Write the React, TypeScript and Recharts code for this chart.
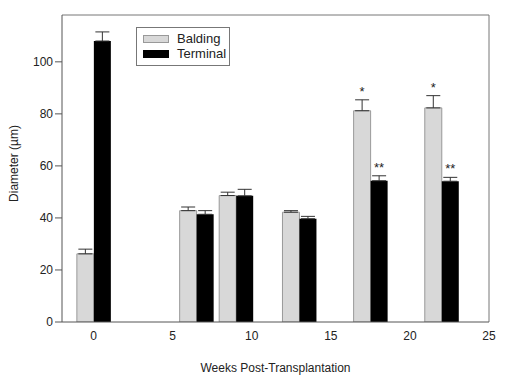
import React from 'react';
import { ComposedChart, Bar, XAxis, YAxis, ErrorBar, LabelList, ReferenceLine } from 'recharts';

const weeks = [0, 6.5, 9, 13, 17.5, 22];
const balding = [26.2, 42.8, 48.6, 42.2, 81.2, 82.3];
const baldingErr = [1.8, 1.4, 1.3, 0.6, 4.2, 4.7];
const terminal = [108, 41.4, 48.5, 39.7, 54.3, 54.1];
const terminalErr = [3.5, 1.4, 2.5, 0.9, 1.9, 1.5];
const baldingSig = ['', '', '', '', '*', '*'];
const terminalSig = ['', '', '', '', '**', '**'];
const seriesNames = ['Balding', 'Terminal'];
const xTicks = [0, 5, 10, 15, 20, 25];
const yTicks = [0, 20, 40, 60, 80, 100];

const data = weeks.map((w, i) => ({
  week: w,
  balding: balding[i],
  baldingErr: [0, baldingErr[i]],
  baldingSig: baldingSig[i],
  terminal: terminal[i],
  terminalErr: [0, terminalErr[i]],
  terminalSig: terminalSig[i],
}));

const FONT = 'Liberation Sans, Arial, sans-serif';

const makeSig = (errs: number[], vals: number[]) => (props: any) => {
  const { x, y, width, height, value, index } = props;
  if (!value) return null;
  const pxPerUnit = height / vals[index];
  const errTop = y - errs[index] * pxPerUnit;
  return (
    <text x={x + width / 2} y={errTop - 4} textAnchor="middle" fontSize={13} fontFamily={FONT} fill="#222">
      {value}
    </text>
  );
};

const LegendBox = () => (
  <div style={{ position: 'absolute', left: 136, top: 27, width: 94, height: 39, border: '1px solid #777', boxSizing: 'border-box', background: '#fff', fontFamily: FONT, fontSize: 13, color: '#222' }}>
    <div style={{ position: 'absolute', left: 6, top: 7, width: 26, height: 8, background: '#d8d8d8', border: '1px solid #999', boxSizing: 'border-box' }} />
    <div style={{ position: 'absolute', left: 40, top: 3, lineHeight: '15px' }}>{seriesNames[0]}</div>
    <div style={{ position: 'absolute', left: 6, top: 22, width: 26, height: 8, background: '#000' }} />
    <div style={{ position: 'absolute', left: 40, top: 18, lineHeight: '15px' }}>{seriesNames[1]}</div>
  </div>
);

export default function App() {
  return (
    <div style={{ position: 'absolute', left: 0, top: 0, width: 509, height: 380, background: '#fff' }}>
      <ComposedChart width={509} height={380} data={data} margin={{ top: 15, right: 20, bottom: 0, left: 0 }} barGap={0} barSize={17}>
        <XAxis
          dataKey="week"
          type="number"
          domain={[-2, 25]}
          ticks={xTicks}
          tickLine={false}
          axisLine={{ stroke: '#555' }}
          tick={{ fontSize: 12, fill: '#222', fontFamily: FONT }}
          tickMargin={3}
          height={58}
          allowDataOverflow
          label={{ value: 'Weeks Post-Transplantation', position: 'insideBottom', offset: 8, fontSize: 12, fill: '#222', fontFamily: FONT }}
        />
        <YAxis
          type="number"
          domain={[0, 118]}
          ticks={yTicks}
          width={62}
          tickSize={7}
          tickLine={{ stroke: '#555' }}
          axisLine={{ stroke: '#555' }}
          tick={{ fontSize: 12, fill: '#222', fontFamily: FONT }}
          allowDataOverflow
          label={{ value: 'Diameter (µm)', angle: -90, position: 'insideLeft', offset: 14, dy: -5, fontSize: 12, fill: '#222', fontFamily: FONT, style: { textAnchor: 'middle' } }}
        />
        <ReferenceLine y={118} stroke="#777" />
        <ReferenceLine x={25} stroke="#777" />
        <Bar dataKey="balding" name={seriesNames[0]} fill="#d8d8d8" stroke="#999" strokeWidth={1} isAnimationActive={false}>
          <ErrorBar dataKey="baldingErr" width={7} stroke="#333" strokeWidth={1} />
          <LabelList dataKey="baldingSig" content={makeSig(baldingErr, balding)} />
        </Bar>
        <Bar dataKey="terminal" name={seriesNames[1]} fill="#000" isAnimationActive={false}>
          <ErrorBar dataKey="terminalErr" width={7} stroke="#333" strokeWidth={1} />
          <LabelList dataKey="terminalSig" content={makeSig(terminalErr, terminal)} />
        </Bar>
      </ComposedChart>
      <LegendBox />
    </div>
  );
}
